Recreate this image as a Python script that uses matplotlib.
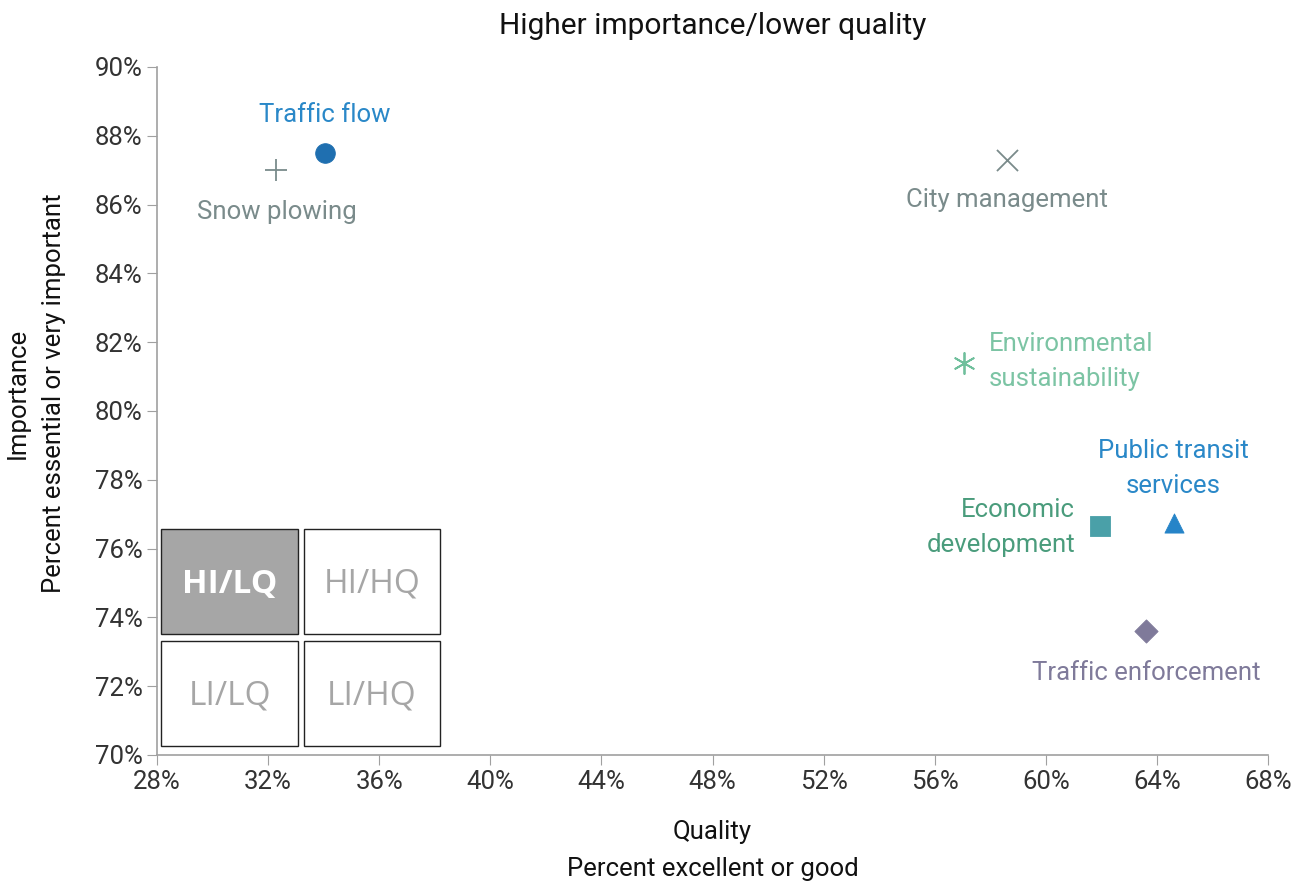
import matplotlib.pyplot as plt
from matplotlib.patches import Rectangle
from matplotlib.ticker import FuncFormatter, MultipleLocator

plt.rcParams['font.family'] = ['Roboto', 'DejaVu Sans']

# data
labels = ["Traffic flow", "Snow plowing", "City management",
          "Environmental\nsustainability", "Economic\ndevelopment",
          "Public transit\nservices", "Traffic enforcement"]
quality = [34.05, 32.3, 58.6, 57.05, 61.95, 64.6, 63.6]
importance = [87.5, 87.0, 87.3, 81.4, 76.65, 76.75, 73.6]
markers = ["o", "+", "x", (6, 2, 0), "s", "^", "D"]
marker_colors = ["#1f6fb0", "#7a8b8b", "#7a8b8b", "#6fbf9c",
                 "#4aa0a8", "#2684c8", "#7f7a9a"]
text_colors = ["#2a88c8", "#7a8b8b", "#7a8b8b", "#7cc4a4",
               "#4a9c7c", "#2a88c8", "#7f7a9a"]
marker_sizes = [200, 230, 230, 230, 200, 190, 140]
# label offsets in points (dx, dy) and alignment
offsets = [(0, 27), (0, -30), (0, -29), (18, 1), (-18, -1), (0, 39), (0, -30)]
aligns = ["center", "center", "center", "left", "right", "center", "center"]

quadrants = ["HI/LQ", "HI/HQ", "LI/LQ", "LI/HQ"]

fig = plt.figure(figsize=(13.07, 8.86), dpi=100)
ax = fig.add_axes([0.1201, 0.1479, 0.8501, 0.7765])

for x, y, m, c, s in zip(quality, importance, markers, marker_colors, marker_sizes):
    lw = 1.3 if m in ("+", "x") or isinstance(m, tuple) else 0.6
    ax.scatter(x, y, marker=m, s=s, color=c, linewidths=lw, zorder=3)

for lab, x, y, c, off, ha in zip(labels, quality, importance, text_colors, offsets, aligns):
    ax.annotate(lab, (x, y), xytext=off, textcoords="offset points",
                ha=ha, va="center", color=c, fontsize=18.5, linespacing=1.55)

ax.set_xlim(28, 68)
ax.set_ylim(70, 90)
ax.xaxis.set_major_locator(MultipleLocator(4))
ax.yaxis.set_major_locator(MultipleLocator(2))
pct = FuncFormatter(lambda v, _: f"{v:.0f}%")
ax.xaxis.set_major_formatter(pct)
ax.yaxis.set_major_formatter(pct)
ax.tick_params(labelsize=18.5, length=7, color="#a0a0a0", labelcolor="#333333")
for side in ("top", "right"):
    ax.spines[side].set_visible(False)
for side in ("left", "bottom"):
    ax.spines[side].set_color("#a0a0a0")
    ax.spines[side].set_linewidth(1.2)

ax.set_title("Higher importance/lower quality", fontsize=21.5, color="#111111", pad=24)
ax.set_xlabel("Quality\nPercent excellent or good", fontsize=18.5, color="#111111",
              linespacing=1.65)
ax.xaxis.set_label_coords(0.5, -0.095)
ax.set_ylabel("Importance\nPercent essential or very important", fontsize=18.5,
              color="#111111", linespacing=1.65)
ax.yaxis.set_label_coords(-0.082, 0.526)

# quadrant key in the lower left corner (axes coordinates)
boxes = [(0.0040, 0.1755), (0.1319, 0.1755), (0.0040, 0.0131), (0.1319, 0.0131)]
bw, bh = 0.1228, 0.153
for i, (name, (bx, by)) in enumerate(zip(quadrants, boxes)):
    face = "#a6a6a6" if i == 0 else "white"
    ax.add_patch(Rectangle((bx, by), bw, bh, transform=ax.transAxes,
                           facecolor=face, edgecolor="#222222", linewidth=1.0,
                           zorder=4))
    ax.text(bx + bw / 2, by + bh / 2 - 0.004, name, transform=ax.transAxes,
            ha="center", va="center", fontsize=24, zorder=5,
            family=["Open Sans", "DejaVu Sans"],
            color="white" if i == 0 else "#a6a6a6",
            fontweight="bold" if i == 0 else "normal")

fig.savefig("out.png", dpi=100)
